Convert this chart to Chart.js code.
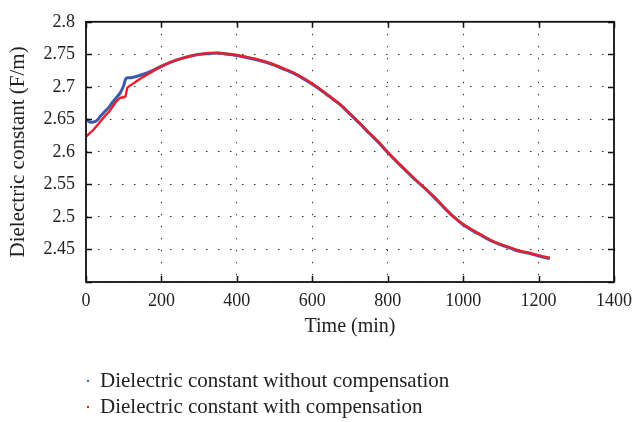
<!DOCTYPE html>
<html>
<head>
<meta charset="utf-8">
<script src="https://cdn.jsdelivr.net/npm/chart.js@4.4.1/dist/chart.umd.min.js"></script>
<style>
  html, body { margin: 0; padding: 0; background: #fff; }
  #wrap { width: 636px; height: 422px; }
</style>
</head>
<body>
<div id="wrap"><canvas id="chartDielectric" width="636" height="422"></canvas></div>
<script>
// ═══════════ DATOS ═══════════
const tiempo = [0, 10, 20, 30, 40, 50, 60, 70, 80, 90, 100, 105, 110, 120, 140, 160, 180, 200,
  225, 250, 275, 300, 325, 350, 375, 400, 425, 450, 475, 500, 525, 550, 575, 600, 625, 650,
  675, 700, 725, 750, 775, 800, 825, 850, 875, 900, 925, 950, 975, 1000, 1025, 1050, 1075,
  1100, 1125, 1150, 1175, 1200, 1215, 1230];

const sinCompensacion = [2.650, 2.646, 2.646, 2.649, 2.656, 2.662, 2.668, 2.676, 2.683, 2.690,
  2.702, 2.712, 2.714, 2.714, 2.717, 2.721, 2.726, 2.732, 2.738, 2.743, 2.747, 2.750, 2.751,
  2.752, 2.750, 2.748, 2.745, 2.742, 2.738, 2.733, 2.727, 2.721, 2.713, 2.704, 2.694, 2.683,
  2.672, 2.658, 2.644, 2.629, 2.615, 2.599, 2.584, 2.570, 2.556, 2.543, 2.529, 2.514, 2.500,
  2.488, 2.479, 2.471, 2.463, 2.457, 2.452, 2.447, 2.444, 2.440, 2.438, 2.436];

const conCompensacion = [2.623, 2.629, 2.634, 2.641, 2.648, 2.655, 2.661, 2.669, 2.677, 2.683,
  2.684, 2.686, 2.699, 2.703, 2.711, 2.718, 2.725, 2.731, 2.738, 2.743, 2.747, 2.750, 2.752,
  2.752, 2.751, 2.749, 2.746, 2.743, 2.739, 2.734, 2.728, 2.722, 2.714, 2.705, 2.695, 2.684,
  2.673, 2.659, 2.645, 2.630, 2.616, 2.600, 2.585, 2.571, 2.557, 2.544, 2.530, 2.515, 2.500,
  2.489, 2.480, 2.472, 2.464, 2.458, 2.453, 2.448, 2.445, 2.441, 2.439, 2.437];

const xTicks = [0, 200, 400, 600, 800, 1000, 1200, 1400];
const yTicks = [2.4, 2.45, 2.5, 2.55, 2.6, 2.65, 2.7, 2.75, 2.8];
const yTickLabels = ['', '2.45', '2.5', '2.55', '2.6', '2.65', '2.7', '2.75', '2.8'];

const etiquetas = ['Dielectric constant without compensation', 'Dielectric constant with compensation'];
const colores = ['#3d5aaa', '#e6202e'];

const FUENTE = '"Liberation Serif", "DejaVu Serif", serif';

// ═══════════ PLUGINS ═══════════
// marco negro + ticks hacia adentro en los 4 lados
const marcoPlugin = {
  id: 'marco',
  afterDatasetsDraw(chart) {
    const { ctx, chartArea: a, scales: { x, y } } = chart;
    ctx.save();
    ctx.strokeStyle = '#111';
    ctx.lineWidth = 1.5;
    ctx.beginPath();
    xTicks.forEach(v => {
      const px = Math.round(x.getPixelForValue(v)) + 0.5;
      ctx.moveTo(px, a.bottom); ctx.lineTo(px, a.bottom - 6);
      ctx.moveTo(px, a.top); ctx.lineTo(px, a.top + 6);
    });
    yTicks.forEach(v => {
      const py = Math.round(y.getPixelForValue(v)) + 0.5;
      ctx.moveTo(a.left, py); ctx.lineTo(a.left + 6, py);
      ctx.moveTo(a.right, py); ctx.lineTo(a.right - 6, py);
    });
    ctx.stroke();
    ctx.lineWidth = 1.8;
    ctx.strokeRect(a.left, a.top, a.right - a.left, a.bottom - a.top);
    ctx.restore();
  }
};

// leyenda abajo, una línea por serie
const leyendaPlugin = {
  id: 'leyenda',
  afterDraw(chart) {
    const { ctx } = chart;
    ctx.save();
    ctx.font = '21px ' + FUENTE;
    ctx.textBaseline = 'middle';
    chart.data.datasets.forEach((ds, i) => {
      const yy = 381 + i * 26;
      ctx.fillStyle = ds.borderColor;
      ctx.beginPath();
      ctx.arc(88, yy, 1.2, 0, Math.PI * 2);
      ctx.fill();
      ctx.fillStyle = '#222';
      ctx.fillText(ds.label, 100, yy);
    });
    ctx.restore();
  }
};

// ═══════════ CHART ═══════════
const datos = (serie) => tiempo.map((t, i) => ({ x: t, y: serie[i] }));

new Chart(document.getElementById('chartDielectric'), {
  type: 'line',
  data: {
    datasets: [
      {
        label: etiquetas[0],
        data: datos(sinCompensacion),
        borderColor: colores[0],
        backgroundColor: colores[0],
        borderWidth: 3,
        pointRadius: 0,
        tension: 0.2,
        order: 2
      },
      {
        label: etiquetas[1],
        data: datos(conCompensacion),
        borderColor: colores[1],
        backgroundColor: colores[1],
        borderWidth: 2.4,
        pointRadius: 0,
        tension: 0.2,
        order: 1
      }
    ]
  },
  options: {
    responsive: false,
    animation: false,
    layout: { padding: { top: 16, right: 22, bottom: 0, left: 0 } },
    plugins: {
      legend: { display: false },
      tooltip: { enabled: false }
    },
    scales: {
      x: {
        type: 'linear',
        min: 0,
        max: 1400,
        afterBuildTicks: s => { s.ticks = xTicks.map(v => ({ value: v })); },
        afterFit: s => { s.height = 140; s.paddingRight = 0; s.paddingLeft = 0; },
        ticks: {
          padding: 8,
          color: '#222',
          font: { family: FUENTE, size: 18 },
          callback: v => String(v),
          maxRotation: 0
        },
        grid: { color: '#333', lineWidth: 1, drawTicks: false },
        border: { display: false, dash: [1.5, 10.5] },
        title: {
          display: true,
          text: 'Time (min)',
          color: '#222',
          font: { family: FUENTE, size: 20 },
          padding: { top: 0, bottom: 83 }
        }
      },
      y: {
        type: 'linear',
        min: 2.4,
        max: 2.8,
        afterBuildTicks: s => { s.ticks = yTicks.map(v => ({ value: v })); },
        afterFit: s => { s.width = 86; },
        ticks: {
          padding: 11,
          color: '#222',
          font: { family: FUENTE, size: 18 },
          callback: (v, i) => yTickLabels[i]
        },
        grid: { color: '#333', lineWidth: 1, drawTicks: false },
        border: { display: false, dash: [1.5, 10.5] },
        title: {
          display: true,
          text: 'Dielectric constant (F/m)',
          color: '#222',
          font: { family: FUENTE, size: 21 },
          padding: { top: 6, bottom: 0 }
        }
      }
    }
  },
  plugins: [marcoPlugin, leyendaPlugin]
});
</script>
</body>
</html>
